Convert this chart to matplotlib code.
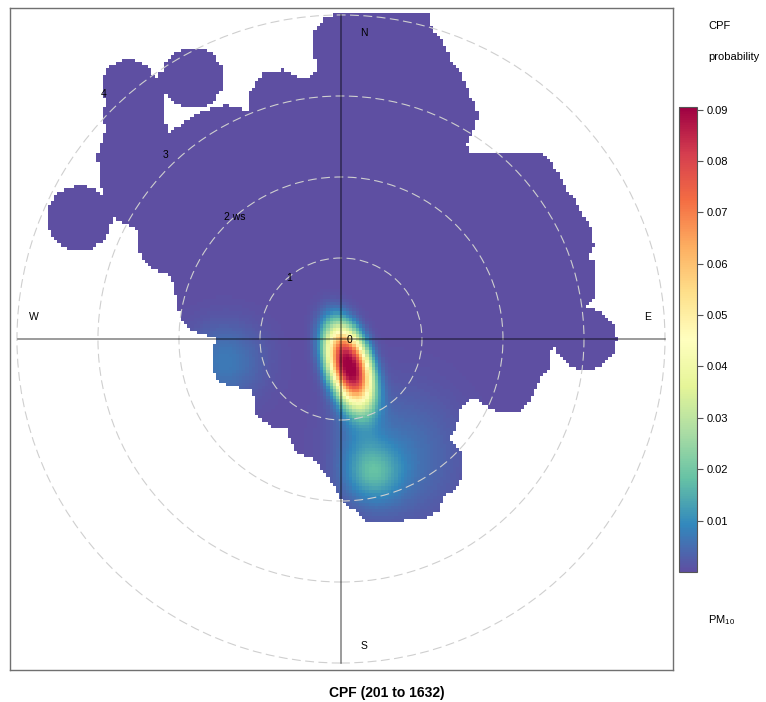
import numpy as np
import matplotlib
matplotlib.use("Agg")
import matplotlib.pyplot as plt
from matplotlib.path import Path
from matplotlib.patches import Circle

plt.rcParams['font.family'] = ['Liberation Sans', 'DejaVu Sans']
plt.rcParams['mathtext.fontset'] = 'custom'
plt.rcParams['mathtext.rm'] = 'Liberation Sans'

# outline of the area with data (x = east, y = north, in ws units)
edge_x = [-0.10, 1.10, 1.12, 1.22, 1.31, 1.35, 1.47, 1.51, 1.59, 1.65, 1.70, 1.64, 1.54, 1.59,
          2.46, 2.62, 2.78, 2.88, 2.99, 3.09, 3.12, 3.06, 3.14, 3.16, 3.12, 3.02, 2.83, 2.65,
          2.58, 2.58, 2.46, 2.37, 2.31, 2.21, 1.93, 1.72, 1.63, 1.47, 1.43, 1.32, 1.49, 1.49,
          1.37, 1.26, 1.22, 1.01, 0.33, 0.20, 0.02, -0.04, -0.23, -0.30, -0.51, -0.63, -0.67,
          -0.84, -1.04, -1.09, -1.33, -1.53, -1.59, -1.59, -1.53, -1.70, -1.83, -1.90, -1.99,
          -2.02, -2.07, -2.09, -2.36, -2.52, -2.52, -2.81, -2.95, -2.98, -3.01, -2.98, -2.91,
          -2.94, -2.90, -2.60, -2.36, -2.26, -2.17,
          -2.20, -2.14, -1.74, -1.58, -1.41, -1.16, -1.16, -0.96, -0.72, -0.54,
          -0.42, -0.30, -0.36, -0.20]
edge_y = [4.00, 4.00, 3.84, 3.72, 3.57, 3.42, 3.32, 3.20, 3.01, 2.93, 2.77, 2.58, 2.40, 2.31,
          2.32, 2.15, 1.86, 1.74, 1.53, 1.37, 1.16, 1.01, 0.95, 0.67, 0.51, 0.42, 0.23, -0.09,
          -0.16, -0.36, -0.48, -0.67, -0.78, -0.88, -0.91, -0.78, -0.72, -0.88, -1.09, -1.21,
          -1.37, -1.74, -1.89, -1.95, -2.11, -2.23, -2.26, -2.15, -2.01, -1.89, -1.62, -1.49,
          -1.43, -1.28, -1.12, -1.09, -0.94, -0.63, -0.59, -0.51, -0.30, -0.10, 0.01, 0.05,
          0.11, 0.15, 0.27, 0.44, 0.64, 0.77, 0.89, 1.10, 1.35, 1.49, 1.80, 2.00, 2.25, 2.37,
          2.58, 2.79, 2.95, 3.01, 2.95, 3.30, 3.26,
          2.91, 2.54, 2.80, 2.86, 2.89, 2.83, 2.99, 3.30, 3.32, 3.23, 3.22,
          3.30, 3.78, 3.96]

# isolated round lobes
lobe_x = [-2.62, -1.83, -3.23, 3.02]
lobe_y = [3.12, 3.22, 1.49, 0.00]
lobe_r = [0.33, 0.38, 0.40, 0.38]

# CPF hot spots: centre, peak, spread along / across, direction of long axis, sharpness
spot_x = [0.10, 0.40, 0.73, -1.43, 0.20]
spot_y = [-0.33, -1.65, -1.43, -0.28, -1.00]
spot_peak = [0.09, 0.012, 0.006, 0.007, 0.005]
spot_long = [0.38, 0.24, 0.50, 0.33, 0.50]
spot_wide = [0.185, 0.24, 0.55, 0.33, 0.20]
spot_angle = [-72, 0, 0, 0, -80]
spot_power = [1.25, 1.0, 1.0, 1.0, 1.0]

ring_ws = [1, 2, 3, 4]
ring_text = ["1", "2 ws", "3", "4"]
ring_text_x = [-0.64, -1.31, -2.16, -2.93]
ring_text_y = [0.75, 1.51, 2.27, 3.02]
cbar_ticks = [0.01, 0.02, 0.03, 0.04, 0.05, 0.06, 0.07, 0.08, 0.09]

lim = 4.1
edges = np.linspace(-lim, lim, 206)
mid = (edges[:-1] + edges[1:]) / 2
gx, gy = np.meshgrid(mid, mid)

inside = Path(np.column_stack([edge_x, edge_y])).contains_points(
    np.column_stack([gx.ravel(), gy.ravel()])).reshape(gx.shape)
for cx, cy, r in zip(lobe_x, lobe_y, lobe_r):
    inside |= (gx - cx) ** 2 + (gy - cy) ** 2 <= r ** 2

z = np.zeros_like(gx)
for cx, cy, a, sl, sw, ang, p in zip(spot_x, spot_y, spot_peak, spot_long, spot_wide,
                                     spot_angle, spot_power):
    t = np.deg2rad(ang)
    u = (gx - cx) * np.cos(t) + (gy - cy) * np.sin(t)
    v = -(gx - cx) * np.sin(t) + (gy - cy) * np.cos(t)
    z += a * np.exp(-0.5 * ((u / sl) ** 2 + (v / sw) ** 2) ** p)
z = np.where(inside, z, np.nan)

fig = plt.figure(figsize=(7.66, 7.02), dpi=100)
ax = fig.add_axes([10 / 766, 32 / 702, 663 / 766, 662 / 702])

im = ax.imshow(z, origin='lower', extent=(-lim, lim, -lim, lim), cmap='Spectral_r',
               vmin=0, vmax=0.0905, interpolation='nearest')
ax.set_aspect('auto')
ax.set_xlim(-4.086, 4.099)
ax.set_ylim(-4.086, 4.086)

for r in ring_ws:
    ax.add_patch(Circle((0, 0), r, fill=False, ec='#cfcfcf', lw=0.8, ls=(0, (8, 4))))
ax.plot([-3.99, 4.0], [0, 0], color='k', alpha=0.5, lw=1.1)
ax.plot([0, 0], [-4.0, 4.0], color='k', alpha=0.5, lw=1.1)

for t, x, y in zip(ring_text, ring_text_x, ring_text_y):
    ax.text(x, y, t, fontsize=7.5, ha='center', va='center')
ax.text(0.11, -0.01, "0", fontsize=7.5, ha='center', va='center')
ax.text(0.28, 3.78, "N", fontsize=7.5, ha='center', va='center')
ax.text(0.28, -3.79, "S", fontsize=7.5, ha='center', va='center')
ax.text(-3.79, 0.27, "W", fontsize=7.5, ha='center', va='center')
ax.text(3.79, 0.27, "E", fontsize=7.5, ha='center', va='center')

ax.set_xticks([])
ax.set_yticks([])
for s in ax.spines.values():
    s.set_color('#707070')
    s.set_linewidth(1)

cax = fig.add_axes([679 / 766, 130 / 702, 18 / 766, 465 / 702])
cb = fig.colorbar(im, cax=cax, ticks=cbar_ticks)
cb.ax.set_yticklabels([f"{t:.2f}" for t in cbar_ticks])
cb.ax.tick_params(length=4, width=0.8, color='#555555', labelsize=8, pad=3)
cb.outline.set_edgecolor('#555555')
cb.outline.set_linewidth(0.8)

fig.text(708 / 766, 1 - 26 / 702, "CPF", fontsize=8, ha='left', va='center')
fig.text(708 / 766, 1 - 57 / 702, "probability", fontsize=8, ha='left', va='center')
fig.text(708 / 766, 1 - 620 / 702, "PM$_{10}$", fontsize=8, ha='left', va='center')
fig.text(387 / 766, 1 - 693 / 702, "CPF (201 to 1632)", fontsize=10, fontweight='bold',
         ha='center', va='center')

fig.savefig("out.png", dpi=100)
